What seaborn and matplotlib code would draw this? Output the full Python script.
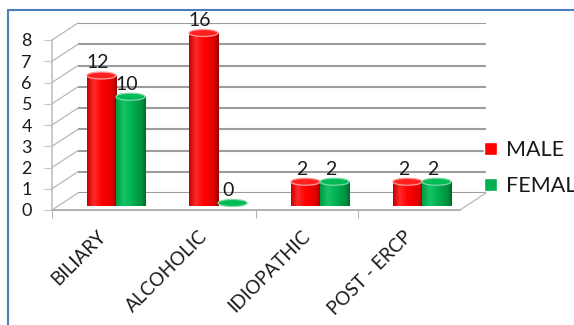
import numpy as np
import pandas as pd
import matplotlib
matplotlib.use("Agg")
import matplotlib.pyplot as plt
from matplotlib.patches import Ellipse
from matplotlib.lines import Line2D
from matplotlib.colors import LinearSegmentedColormap
import seaborn as sns

# ---- data -------------------------------------------------------------
categories = ["BILIARY", "ALCOHOLIC", "IDIOPATHIC", "POST - ERCP"]
series = ["MALE", "FEMALE"]
male = [12, 16, 2, 2]
female = [10, 0, 2, 2]
y_ticks = [0, 2, 4, 6, 8, 10, 12, 14, 16]
y_tick_labels = ["0", "1", "2", "3", "4", "5", "6", "7", "8"]

colors = {"MALE": "#ff0000", "FEMALE": "#00b050"}

df = pd.DataFrame({
    "cause": categories * 2,
    "sex": [series[0]] * len(male) + [series[1]] * len(female),
    "count": male + female,
})

# ---- figure & the three depth planes ------------------------------------
W, H, DPI = 574, 325, 100
sns.set_theme(style="white")
plt.rcParams["font.family"] = ["Lato", "DejaVu Sans"]
fig = plt.figure(figsize=(W / DPI, H / DPI), dpi=DPI)
fig.patch.set_facecolor("white")

PW, PH = 408, 170  # plane width / height in pixels
TXT = "#1a1a1a"


def plane(x0, y0, z):
    a = fig.add_axes([x0 / W, (H - y0) / H, PW / W, PH / H], zorder=z)
    a.set_facecolor("none")
    a.set_xlim(-0.5, 3.5)
    a.set_ylim(0, 16)
    return a


ax_back = plane(78, 193, 0)
ax_front = plane(52, 210, 1)
ax_bar = plane(65, 203, 2)

# back wall gridlines
ax_back.set_yticks(y_ticks)
ax_back.set_xticks([])
ax_back.yaxis.grid(True, color="#9c9c9c", lw=1.5)
ax_back.tick_params(axis="y", length=0, labelleft=False)
for s in ax_back.spines.values():
    s.set_visible(False)

# front edge: value axis, category axis and floor
for k, s in ax_front.spines.items():
    s.set_visible(k in ("left", "bottom"))
ax_front.spines["left"].set_color("#c4c4c4")
ax_front.spines["bottom"].set_color("#b0b0b0")
ax_front.spines["bottom"].set_linewidth(1.4)
ax_front.set_yticks(y_ticks)
ax_front.set_yticklabels(y_tick_labels)
ax_front.tick_params(axis="y", which="major", direction="out", length=5.8,
                     width=0.8, color="#c4c4c4", pad=8.6, labelsize=13,
                     labelcolor=TXT, left=True)
ax_front.set_xticks(range(len(categories)))
ax_front.set_xticklabels(categories, rotation=45, ha="right", va="center",
                         rotation_mode="anchor")
ax_front.set_xticks([-0.5, 1.5, 2.5], minor=True)
ax_front.tick_params(axis="x", which="major", length=0, pad=17,
                     labelsize=13.5, labelcolor=TXT)
ax_front.tick_params(axis="x", which="minor", direction="out", length=5.8,
                     width=0.8, color="#b4b4b4", bottom=True)

# side-wall and floor edges joining the front and back planes
to_fig = fig.transFigure.inverted()


def join(xv, yv, **kw):
    p0 = to_fig.transform(ax_front.transData.transform((xv, yv)))
    p1 = to_fig.transform(ax_back.transData.transform((xv, yv)))
    fig.add_artist(Line2D([p0[0], p1[0]], [p0[1], p1[1]],
                          transform=fig.transFigure, **kw))


for v in y_ticks:
    join(-0.5, v, color="#b8b8b8", lw=0.9)
join(3.5, 0, color="#b8b8b8", lw=0.9)

# ---- cylinders -----------------------------------------------------------
sns.barplot(data=df, x="cause", y="count", hue="sex", order=categories,
            hue_order=series, palette=colors, width=0.57, gap=0,
            saturation=1, ax=ax_bar, errorbar=None)

shade = {
    "MALE": LinearSegmentedColormap.from_list(
        "m", [(0, "#c80000"), (0.22, "#ff2a2a"), (0.5, "#ff0000"),
              (0.85, "#e00000"), (1, "#980000")]),
    "FEMALE": LinearSegmentedColormap.from_list(
        "f", [(0, "#009a44"), (0.25, "#14c466"), (0.55, "#00b050"),
              (0.88, "#008e3e"), (1, "#006a2c")]),
}
cap_top = {"MALE": ("#ff2020", "#ff9a9a"), "FEMALE": ("#00bb55", "#7fd8a6")}
grad = np.linspace(0, 1, 64)[None, :]
cap_h = 7 / (PH / 16)  # cap ellipse height in data units

for name, cont in zip(series, ax_bar.containers):
    for rect in cont.patches:
        x, w, h = rect.get_x(), rect.get_width(), rect.get_height()
        cx = x + w / 2
        rect.set_edgecolor("none")
        if h > 0:
            im = ax_bar.imshow(grad, extent=[x, x + w, 0, h], aspect="auto",
                               cmap=shade[name], zorder=2)
            im.set_clip_path(rect)
            bottom = Ellipse((cx, 0), w, cap_h, facecolor="none",
                             edgecolor="none", clip_on=False)
            ax_bar.add_patch(bottom)
            imb = ax_bar.imshow(grad, extent=[x, x + w, -cap_h / 2, cap_h / 2],
                                aspect="auto", cmap=shade[name], zorder=2,
                                clip_on=False)
            imb.set_clip_path(bottom)
        fc, ec = cap_top[name]
        ax_bar.add_patch(Ellipse((cx, h), w, cap_h, facecolor=fc,
                                 edgecolor=ec, lw=0.9, zorder=3,
                                 clip_on=False))
        ax_bar.annotate(f"{h:.0f}", (cx, h), xytext=(-4, 4),
                        textcoords="offset pixels", ha="center", va="bottom",
                        fontsize=14, color=TXT, annotation_clip=False)

ax_bar.set_xlim(-0.5, 3.5)
ax_bar.set_ylim(0, 16)
ax_bar.set_axis_off()

# legend on the right, cut by the chart edge
sns.move_legend(ax_bar, "center left", bbox_to_anchor=(484 / W, (H - 168) / H),
                bbox_transform=fig.transFigure, frameon=False, title=None,
                fontsize=15.5, handlelength=0.6, handleheight=0.6,
                handletextpad=0.4, labelspacing=0.75, borderpad=0,
                borderaxespad=0)
for t in ax_bar.get_legend().get_texts():
    t.set_color(TXT)

# chart area border (left and top edges)
bc = "#4a7ebb"
fig.add_artist(Line2D([8 / W, 8 / W], [0, (H - 10) / H], color=bc, lw=1.5,
                      transform=fig.transFigure))
fig.add_artist(Line2D([8 / W, 1], [(H - 10) / H, (H - 10) / H], color=bc,
                      lw=1.5, transform=fig.transFigure))

fig.savefig("out.png", dpi=DPI, facecolor="white")
